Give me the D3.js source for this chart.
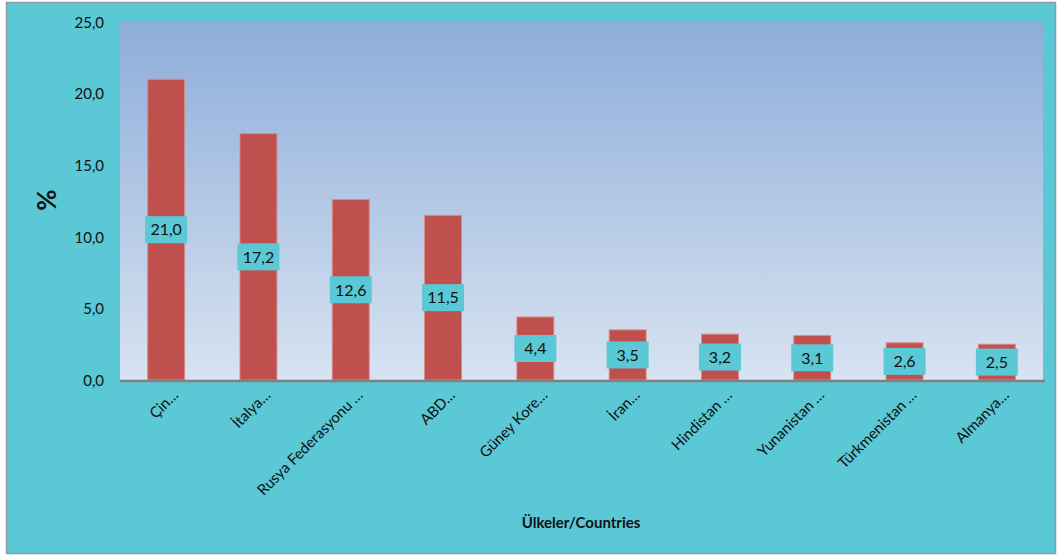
<!DOCTYPE html>
<html><head><meta charset="utf-8">
<script src="https://cdn.jsdelivr.net/npm/d3@7"></script>
<style>html,body{margin:0;padding:0;background:#fff;}svg{display:block;}</style>
</head><body>
<svg id="c" width="1059" height="557"></svg>
<script>
const categories = ["Çin…","İtalya…","Rusya Federasyonu …","ABD…","Güney Kore…","İran…","Hindistan …","Yunanistan …","Türkmenistan …","Almanya…"];
const values = [21.0, 17.2, 12.6, 11.5, 4.4, 3.5, 3.2, 3.1, 2.6, 2.5];
const yTicks = [0, 5, 10, 15, 20, 25];
const yTitle = "%";
const xTitle = "Ülkeler/Countries";

const svg = d3.select("#c");
const font = "Lato, 'Noto Sans', sans-serif";
const plot = {left: 120, right: 1043, top: 22, bottom: 380};

svg.append("rect").attr("x",6.5).attr("y",2.5).attr("width",1049).attr("height",551)
  .attr("fill","#5BC8D6").attr("stroke","#8a9aa0").attr("stroke-width",1.5);

const defs = svg.append("defs");
const g = defs.append("linearGradient").attr("id","bg").attr("x1",0).attr("y1",0).attr("x2",0).attr("y2",1);
g.append("stop").attr("offset","0%").attr("stop-color","#8DADDA");
g.append("stop").attr("offset","100%").attr("stop-color","#D8E3F1");

svg.append("rect").attr("x",plot.left).attr("y",plot.top)
  .attr("width",plot.right-plot.left).attr("height",plot.bottom-plot.top).attr("fill","url(#bg)");

const x = d3.scaleBand().domain(categories).range([plot.left, plot.right]).paddingInner(0.6).paddingOuter(0.3);
const y = d3.scaleLinear().domain([0,25]).range([plot.bottom, plot.top]);

const fmt = d => d.toFixed(1).replace(".", ",");

svg.selectAll("rect.bar").data(values).join("rect").attr("class","bar")
  .attr("x",(d,i)=>x(categories[i])).attr("width",x.bandwidth())
  .attr("y",d=>y(d)).attr("height",d=>y(0)-y(d))
  .attr("fill","#C0504D").attr("stroke","#D98A8A").attr("stroke-width",1);

const ya = svg.append("g").attr("transform",`translate(${plot.left},0)`)
  .call(d3.axisLeft(y).tickValues(yTicks).tickFormat(fmt).tickSize(0).tickPadding(16));
ya.select(".domain").remove();
ya.selectAll("text").attr("font-family",font).attr("font-size",15).attr("fill","#111").attr("dy","0.35em");

svg.append("line").attr("x1",plot.left).attr("x2",plot.right+2).attr("y1",y(0)+1).attr("y2",y(0)+1)
  .attr("stroke","#808080").attr("stroke-width",2.5);

const xa = svg.append("g").attr("transform",`translate(0,${plot.bottom})`)
  .call(d3.axisBottom(x).tickSize(0).tickFormat(d=>d));
xa.select(".domain").remove();
xa.selectAll("text").attr("font-family",font).attr("font-size",15).attr("fill","#111")
  .attr("text-anchor","end").attr("dy",0).attr("y",0)
  .attr("transform","translate(13,16) rotate(-45)");

const lab = svg.selectAll("g.lab").data(values).join("g").attr("class","lab")
  .attr("transform",(d,i)=>`translate(${x(categories[i])+x.bandwidth()/2},${y(d/2)})`);
lab.append("rect").attr("x",-21).attr("y",-13.5).attr("width",42).attr("height",27).attr("fill","#5BC8D6");
lab.append("text").attr("text-anchor","middle").attr("dy","0.36em")
  .attr("font-family",font).attr("font-size",16).attr("fill","#111").text(fmt);

svg.append("text").attr("transform",`translate(56,200) rotate(-90)`).attr("text-anchor","middle")
  .attr("font-family",font).attr("font-weight","bold").attr("font-size",26).attr("fill","#111").text(yTitle);
svg.append("text").attr("x",581).attr("y",528).attr("text-anchor","middle")
  .attr("font-family",font).attr("font-weight","bold").attr("font-size",15).attr("fill","#111").text(xTitle);
</script>
</body></html>
